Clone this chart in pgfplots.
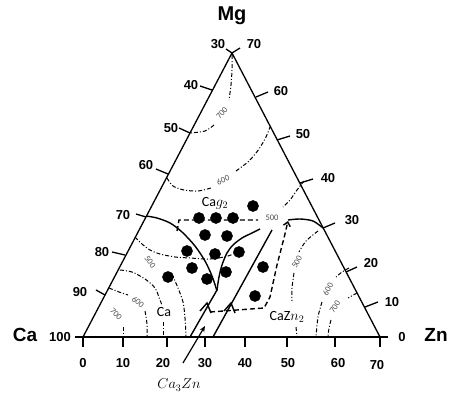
\documentclass[border=0pt]{standalone}
\usepackage{fontspec}
\usepackage{pgfplots}
\pgfplotsset{compat=1.18}
\usetikzlibrary{arrows.meta}
\newfontfamily\lib{Liberation Sans}
\newfontfamily\carl{Carlito}
\tikzset{
  edge/.style={black, line width=1.3pt},
  sol/.style={black, line width=1.4pt},
  cont/.style={black, line width=1pt, dash pattern=on 4pt off 2pt on 1pt off 2pt},
  box/.style={black, line width=1.4pt, dash pattern=on 5pt off 3pt},
  tk/.style={font=\lib\bfseries\fontsize{13}{15}\selectfont},
  sm/.style={font=\carl\fontsize{8.5}{9}\selectfont, text=black!70, inner sep=0pt},
  lb/.style={font=\carl\fontsize{14}{16}\selectfont, inner sep=0pt},
}
\begin{document}
\begin{tikzpicture}
\begin{axis}[
  scale only axis, width=451pt, height=399pt,
  xmin=0, xmax=451, ymin=0, ymax=399, y dir=reverse,
  hide axis, clip=false,
]
% triangle
\addplot[edge] coordinates {(83,337) (232,53) (380,337)};
\addplot[edge] coordinates {(75,337) (388,337)};
% bottom ticks
\addplot[edge] coordinates {(83,337) (83,347)};
\addplot[edge] coordinates {(123,337) (123,347)};
\addplot[edge] coordinates {(167,337) (167,347)};
\addplot[edge] coordinates {(205,337) (205,347)};
\addplot[edge] coordinates {(245,337) (245,347)};
\addplot[edge] coordinates {(287,337) (287,347)};
\addplot[edge] coordinates {(335,337) (335,347)};
\addplot[edge] coordinates {(380,337) (380,347)};
% left ticks
\addplot[edge] coordinates {(232,53) (226,49)};
\addplot[edge] coordinates {(212,90) (200,86)};
\addplot[edge] coordinates {(190,133) (179,128)};
\addplot[edge] coordinates {(168,174) (156,169)};
\addplot[edge] coordinates {(146,217) (136,214)};
\addplot[edge] coordinates {(125,255) (112,252)};
\addplot[edge] coordinates {(105,295) (96,290)};
% right ticks
\addplot[edge] coordinates {(232,53) (240,48)};
\addplot[edge] coordinates {(256,97) (268,92)};
\addplot[edge] coordinates {(277,140) (290,136)};
\addplot[edge] coordinates {(300,183) (313,179)};
\addplot[edge] coordinates {(323,228) (335,223)};
\addplot[edge] coordinates {(346,272) (357,267)};
\addplot[edge] coordinates {(365,307) (378,302)};
% solid phase boundaries
\addplot[sol, smooth] coordinates {(146,216) (157,218) (170,223) (182,232) (195,246) (205,261) (212,276) (217,291)};
\addplot[sol] coordinates {(190,337) (217,290)};
\addplot[sol, smooth] coordinates {(217,290) (219,277) (222,265) (227,253) (233,245) (242,238) (252,233) (260,229)};
\addplot[sol] coordinates {(213,337) (272,230)};
\addplot[sol, smooth] coordinates {(288,220) (300,219) (313,221) (323,228)};
% chevrons
\addplot[sol] coordinates {(200,311) (207,303) (211,313)};
\addplot[sol] coordinates {(224,311) (231,303) (235,313)};
% dashed boxes
\addplot[box] coordinates {(177,231) (179,220) (258,220)};
\addplot[box, -{Straight Barb[length=4pt,width=7pt]}] coordinates {(210,312) (264,308) (270,297) (277,265) (284,238) (288,221)};
% contours
\addplot[cont, smooth] coordinates {(232,55) (232,70) (231,85) (229,100)};
\addplot[cont, smooth] coordinates {(214,125) (205,131) (190,133)};
\addplot[cont, smooth] coordinates {(167,178) (173,186) (184,190) (198,191) (211,188)};
\addplot[cont, smooth] coordinates {(236,171) (249,161) (259,149) (266,137) (270,127)};
\addplot[cont, smooth] coordinates {(304,181) (297,190) (290,200) (283,207)};
\addplot[cont, smooth] coordinates {(135,237) (142,244) (150,250) (160,254) (175,257) (190,258) (210,259) (228,256) (242,250)};
\addplot[cont, smooth] coordinates {(172,274) (178,288) (183,302) (185,318) (186,337)};
\addplot[cont, smooth] coordinates {(120,270) (132,272) (145,279) (155,288) (160,300) (162,305)};
\addplot[cont] coordinates {(163,322) (163,337)};
\addplot[cont, smooth] coordinates {(109,288) (119,292) (128,295)};
\addplot[cont, smooth] coordinates {(145,311) (147,324) (147,337)};
\addplot[cont] coordinates {(123,327) (123,337)};
\addplot[cont, smooth] coordinates {(318,231) (306,241) (299,252)};
\addplot[cont, smooth] coordinates {(294,273) (292,288) (292,301)};
\addplot[cont] coordinates {(296,327) (297,337)};
\addplot[cont, smooth] coordinates {(349,268) (342,272) (336,277)};
\addplot[cont, smooth] coordinates {(322,302) (318,317) (316,337)};
\addplot[cont, smooth] coordinates {(357,293) (348,298)};
\addplot[cont, smooth] coordinates {(331,320) (329,328) (328,337)};
% data points
\addplot[only marks, mark=*, mark size=5.6pt, black] coordinates {
(253,206) (199,218) (216,218) (233,218) (205,235) (227,236)
(187,251) (215,254) (239,252) (192,268) (226,272) (263,267)
(207,279) (168,277) (255,296)};
% Ca3Zn arrow
\addplot[black, line width=1.2pt, -{Stealth[length=6pt,width=5pt]}] coordinates {(183,363) (205,326)};

% labels
\node[font=\lib\bfseries\fontsize{20}{24}\selectfont] at (axis cs:232,16) {Mg};
\node[font=\lib\bfseries\fontsize{19}{22}\selectfont] at (axis cs:25,335) {Ca};
\node[font=\lib\bfseries\fontsize{19}{22}\selectfont] at (axis cs:436,335) {Zn};
\node[tk] at (axis cs:218,44) {30};
\node[tk] at (axis cs:254,44) {70};
\node[tk] at (axis cs:191,85) {40};
\node[tk] at (axis cs:171,128) {50};
\node[tk] at (axis cs:146,165) {60};
\node[tk] at (axis cs:123,215) {70};
\node[tk] at (axis cs:102,252) {80};
\node[tk] at (axis cs:80,292) {90};
\node[tk] at (axis cs:60,337) {100};
\node[tk] at (axis cs:281,91) {60};
\node[tk] at (axis cs:303,134) {50};
\node[tk] at (axis cs:328,178) {40};
\node[tk] at (axis cs:352,220) {30};
\node[tk] at (axis cs:371,263) {20};
\node[tk] at (axis cs:392,302) {10};
\node[tk] at (axis cs:402,337) {0};
\node[tk] at (axis cs:83,363) {0};
\node[tk] at (axis cs:123,363) {10};
\node[tk] at (axis cs:163,363) {20};
\node[tk] at (axis cs:205,363) {30};
\node[tk] at (axis cs:245,363) {40};
\node[tk] at (axis cs:288,363) {50};
\node[tk] at (axis cs:338,363) {60};
\node[tk] at (axis cs:377,365) {70};
% phase labels
\node[lb] at (axis cs:215,203) {Ca$g_2$};
\node[lb] at (axis cs:164,312) {Ca};
\node[lb] at (axis cs:287,317) {CaZ$n_2$};
\node[font=\fontsize{14}{16}\selectfont] at (axis cs:179,385) {$Ca_3Zn$};
% contour labels
\node[sm, rotate=50] at (axis cs:222,113) {700};
\node[sm, rotate=22] at (axis cs:223,180) {600};
\node[sm] at (axis cs:272,218) {500};
\node[sm, rotate=-55] at (axis cs:150,262) {500};
\node[sm, rotate=-40] at (axis cs:138,302) {600};
\node[sm, rotate=-45] at (axis cs:116,314) {700};
\node[sm, rotate=62] at (axis cs:297,262) {500};
\node[sm, rotate=62] at (axis cs:328,289) {600};
\node[sm, rotate=58] at (axis cs:335,307) {700};
\end{axis}
\pgfresetboundingbox
\path[use as bounding box] (current axis.south west) rectangle (current axis.north east);
\end{tikzpicture}
\end{document}
